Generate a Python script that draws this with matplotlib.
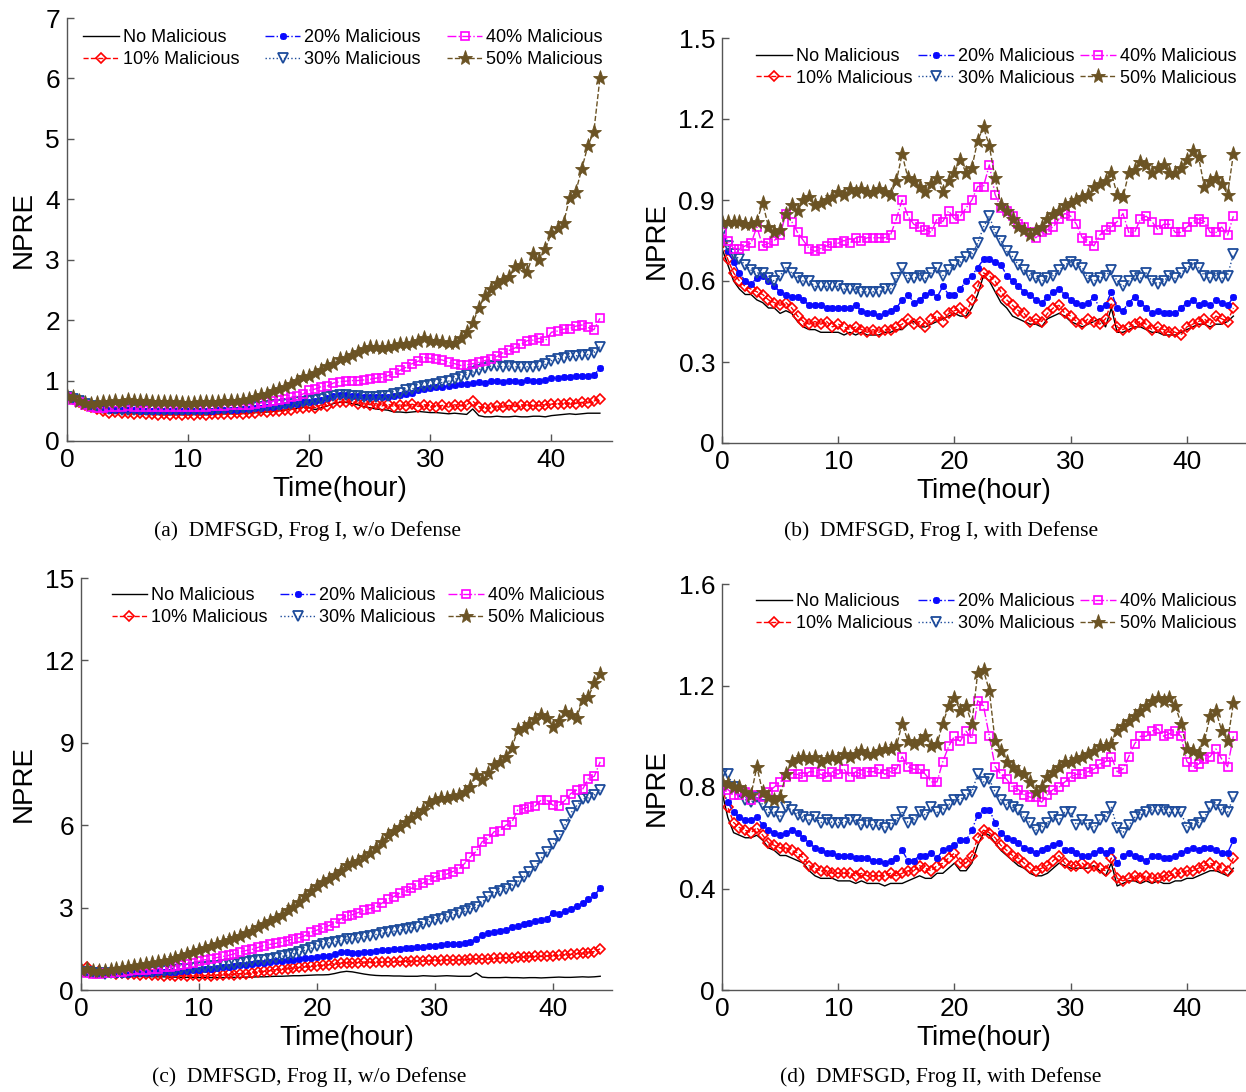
import numpy as np
import matplotlib
matplotlib.use("Agg")
import matplotlib.pyplot as plt

# ---------------- data ----------------
hours = [i * 0.5 for i in range(89)]  # 0 .. 44 h, every half hour
series_labels = ["No Malicious", "10% Malicious", "20% Malicious",
                 "30% Malicious", "40% Malicious", "50% Malicious"]
captions = ["(a)  DMFSGD, Frog I, w/o Defense", "(b)  DMFSGD, Frog I, with Defense",
            "(c)  DMFSGD, Frog II, w/o Defense", "(d)  DMFSGD, Frog II, with Defense"]
a_yticks = [0, 1, 2, 3, 4, 5, 6, 7]
b_yticks = [0, 0.3, 0.6, 0.9, 1.2, 1.5]
c_yticks = [0, 3, 6, 9, 12, 15]
d_yticks = [0, 0.4, 0.8, 1.2, 1.6]
x_ticks = [0, 10, 20, 30, 40]

# (a) Frog I, w/o defense
a_none = [0.72,0.68,0.63,0.60,0.56,0.53,0.50,0.49,0.48,0.47,
          0.47,0.46,0.46,0.45,0.45,0.44,0.44,0.44,0.44,0.44,
          0.44,0.44,0.44,0.44,0.44,0.45,0.45,0.45,0.45,0.46,
          0.46,0.47,0.47,0.48,0.49,0.50,0.51,0.53,0.54,0.56,
          0.55,0.52,0.55,0.58,0.62,0.64,0.64,0.62,0.60,0.57,
          0.55,0.53,0.52,0.51,0.48,0.48,0.47,0.48,0.49,0.48,
          0.47,0.47,0.46,0.45,0.46,0.45,0.44,0.53,0.42,0.40,
          0.40,0.41,0.40,0.40,0.41,0.40,0.40,0.41,0.41,0.40,
          0.42,0.43,0.44,0.45,0.44,0.45,0.46,0.46,0.46]
a_10 = [0.75,0.70,0.64,0.60,0.56,0.53,0.50,0.47,0.48,0.46,
        0.47,0.45,0.46,0.44,0.45,0.43,0.44,0.43,0.45,0.43,
        0.44,0.43,0.45,0.43,0.44,0.44,0.45,0.44,0.46,0.45,
        0.47,0.47,0.49,0.48,0.50,0.50,0.52,0.52,0.55,0.54,
        0.57,0.55,0.60,0.58,0.63,0.65,0.64,0.66,0.62,0.63,
        0.60,0.62,0.58,0.61,0.57,0.60,0.58,0.61,0.57,0.60,
        0.58,0.57,0.59,0.56,0.60,0.58,0.60,0.66,0.57,0.54,
        0.55,0.58,0.56,0.59,0.57,0.60,0.58,0.59,0.58,0.60,
        0.61,0.62,0.61,0.63,0.62,0.64,0.63,0.66,0.70]
a_20 = [0.73,0.70,0.65,0.60,0.57,0.55,0.53,0.52,0.52,0.51,
        0.51,0.51,0.50,0.50,0.50,0.50,0.50,0.50,0.50,0.50,
        0.50,0.50,0.50,0.50,0.50,0.51,0.51,0.52,0.52,0.53,
        0.53,0.54,0.55,0.56,0.57,0.58,0.59,0.61,0.62,0.64,
        0.65,0.66,0.68,0.71,0.74,0.76,0.76,0.75,0.74,0.73,
        0.73,0.72,0.73,0.73,0.75,0.76,0.78,0.80,0.84,0.86,
        0.88,0.89,0.90,0.91,0.93,0.94,0.95,0.96,0.97,0.96,
        1.00,0.99,0.98,0.99,1.00,0.98,1.01,1.00,0.99,1.01,
        1.04,1.05,1.06,1.06,1.07,1.07,1.08,1.09,1.20]
a_30 = [0.73,0.70,0.66,0.61,0.58,0.56,0.54,0.53,0.53,0.52,
        0.52,0.52,0.52,0.52,0.52,0.52,0.52,0.52,0.52,0.52,
        0.52,0.52,0.52,0.52,0.53,0.53,0.53,0.54,0.54,0.55,
        0.55,0.56,0.57,0.58,0.59,0.60,0.61,0.62,0.64,0.65,
        0.66,0.68,0.70,0.72,0.75,0.76,0.76,0.75,0.74,0.73,
        0.73,0.73,0.74,0.75,0.78,0.80,0.84,0.86,0.90,0.91,
        0.93,0.95,0.97,0.99,1.02,1.06,1.10,1.14,1.18,1.21,
        1.24,1.24,1.23,1.24,1.23,1.22,1.23,1.22,1.24,1.27,
        1.33,1.36,1.38,1.40,1.41,1.42,1.43,1.46,1.56]
a_40 = [0.72,0.68,0.64,0.59,0.56,0.55,0.55,0.56,0.57,0.57,
        0.58,0.57,0.57,0.57,0.56,0.56,0.56,0.57,0.56,0.56,
        0.56,0.57,0.57,0.57,0.58,0.58,0.58,0.59,0.59,0.60,
        0.60,0.61,0.63,0.64,0.66,0.68,0.70,0.72,0.74,0.78,
        0.84,0.86,0.90,0.91,0.96,0.98,0.99,1.00,1.00,1.01,
        1.02,1.04,1.05,1.08,1.12,1.17,1.22,1.28,1.32,1.38,
        1.37,1.35,1.34,1.30,1.28,1.25,1.26,1.28,1.30,1.33,
        1.36,1.40,1.46,1.50,1.54,1.60,1.66,1.67,1.70,1.66,
        1.80,1.82,1.85,1.86,1.90,1.92,1.88,1.84,2.03]
a_50 = [0.75,0.72,0.66,0.63,0.62,0.63,0.65,0.64,0.66,0.65,
        0.68,0.67,0.66,0.66,0.65,0.65,0.64,0.64,0.64,0.63,
        0.63,0.63,0.64,0.64,0.65,0.65,0.66,0.66,0.67,0.68,
        0.70,0.72,0.76,0.78,0.82,0.86,0.90,0.95,1.00,1.06,
        1.08,1.12,1.18,1.24,1.28,1.35,1.38,1.42,1.48,1.52,
        1.55,1.56,1.54,1.56,1.58,1.60,1.60,1.62,1.65,1.70,
        1.66,1.65,1.64,1.62,1.63,1.70,1.80,1.95,2.20,2.40,
        2.52,2.61,2.66,2.72,2.88,2.91,2.80,3.10,3.00,3.18,
        3.44,3.52,3.61,4.02,4.12,4.50,4.88,5.12,6.00]

# (b) Frog I, with defense
b_none = [0.72,0.66,0.60,0.57,0.55,0.55,0.53,0.52,0.50,0.50,
          0.48,0.49,0.48,0.45,0.43,0.42,0.42,0.41,0.41,0.41,
          0.41,0.40,0.41,0.40,0.41,0.40,0.40,0.40,0.41,0.41,
          0.42,0.42,0.44,0.45,0.43,0.43,0.44,0.45,0.46,0.47,
          0.48,0.47,0.47,0.50,0.55,0.62,0.60,0.56,0.52,0.50,
          0.47,0.46,0.45,0.44,0.44,0.43,0.46,0.47,0.48,0.47,
          0.45,0.44,0.43,0.44,0.45,0.46,0.43,0.50,0.41,0.41,
          0.42,0.43,0.43,0.42,0.41,0.41,0.40,0.40,0.40,0.41,
          0.42,0.43,0.44,0.44,0.43,0.44,0.44,0.45,0.47]
b_10 = [0.74,0.68,0.63,0.60,0.58,0.57,0.56,0.55,0.53,0.52,
        0.51,0.52,0.50,0.47,0.45,0.44,0.45,0.44,0.45,0.43,
        0.44,0.43,0.42,0.43,0.42,0.41,0.42,0.41,0.42,0.42,
        0.43,0.44,0.46,0.44,0.45,0.43,0.46,0.47,0.45,0.48,
        0.49,0.50,0.48,0.53,0.58,0.63,0.62,0.60,0.56,0.53,
        0.51,0.49,0.48,0.45,0.46,0.45,0.48,0.50,0.51,0.48,
        0.47,0.45,0.44,0.46,0.45,0.44,0.46,0.52,0.43,0.42,
        0.43,0.44,0.45,0.44,0.42,0.43,0.42,0.41,0.41,0.40,
        0.43,0.44,0.45,0.46,0.44,0.47,0.46,0.45,0.50]
b_20 = [0.76,0.71,0.67,0.63,0.60,0.59,0.61,0.62,0.60,0.58,
        0.56,0.55,0.54,0.54,0.53,0.51,0.51,0.51,0.50,0.50,
        0.50,0.50,0.50,0.51,0.49,0.48,0.48,0.47,0.48,0.49,
        0.50,0.53,0.55,0.52,0.53,0.55,0.56,0.54,0.58,0.55,
        0.55,0.57,0.60,0.62,0.65,0.68,0.68,0.67,0.66,0.62,
        0.60,0.58,0.56,0.55,0.53,0.52,0.54,0.56,0.57,0.55,
        0.53,0.52,0.51,0.52,0.54,0.50,0.51,0.56,0.50,0.49,
        0.52,0.54,0.52,0.50,0.48,0.49,0.48,0.48,0.48,0.50,
        0.52,0.53,0.51,0.52,0.51,0.53,0.52,0.51,0.54]
b_30 = [0.78,0.73,0.70,0.68,0.66,0.64,0.63,0.63,0.61,0.60,
        0.62,0.65,0.63,0.61,0.60,0.60,0.58,0.58,0.58,0.58,
        0.58,0.57,0.57,0.57,0.56,0.56,0.56,0.56,0.57,0.57,
        0.61,0.65,0.61,0.61,0.62,0.61,0.63,0.65,0.62,0.64,
        0.66,0.67,0.69,0.70,0.74,0.80,0.84,0.78,0.75,0.71,
        0.69,0.66,0.64,0.62,0.61,0.60,0.61,0.62,0.64,0.66,
        0.67,0.66,0.65,0.61,0.60,0.61,0.62,0.64,0.60,0.58,
        0.60,0.62,0.61,0.63,0.60,0.59,0.60,0.62,0.61,0.63,
        0.65,0.66,0.65,0.62,0.61,0.62,0.61,0.62,0.70]
b_40 = [0.78,0.75,0.72,0.72,0.73,0.74,0.80,0.73,0.74,0.75,
        0.77,0.85,0.82,0.78,0.75,0.72,0.71,0.72,0.73,0.74,
        0.74,0.75,0.74,0.76,0.75,0.76,0.76,0.76,0.76,0.77,
        0.83,0.90,0.84,0.81,0.80,0.79,0.78,0.83,0.82,0.86,
        0.83,0.84,0.87,0.90,0.95,0.95,1.03,0.92,0.87,0.86,
        0.84,0.81,0.80,0.78,0.76,0.78,0.79,0.80,0.83,0.85,
        0.84,0.81,0.76,0.75,0.73,0.77,0.79,0.80,0.82,0.85,
        0.78,0.78,0.83,0.84,0.82,0.79,0.81,0.81,0.78,0.78,
        0.80,0.82,0.83,0.82,0.78,0.78,0.80,0.77,0.84]
b_50 = [0.82,0.82,0.82,0.82,0.81,0.81,0.82,0.89,0.80,0.78,
        0.79,0.85,0.88,0.86,0.90,0.91,0.88,0.89,0.90,0.91,
        0.93,0.92,0.94,0.93,0.94,0.93,0.93,0.94,0.93,0.92,
        0.97,1.07,0.98,0.97,0.95,0.93,0.96,0.98,0.93,0.97,
        1.00,1.05,1.00,1.02,1.12,1.17,1.10,0.98,0.88,0.86,
        0.83,0.80,0.79,0.77,0.79,0.80,0.83,0.85,0.86,0.88,
        0.89,0.90,0.91,0.92,0.95,0.96,0.97,1.00,0.92,0.91,
        1.00,1.01,1.04,1.03,1.00,1.02,1.03,1.00,1.00,1.02,
        1.05,1.08,1.06,0.95,0.97,0.98,0.96,0.92,1.07]

# (c) Frog II, w/o defense
c_none = [0.65,0.62,0.58,0.56,0.55,0.54,0.53,0.52,0.51,0.50,
          0.50,0.49,0.49,0.48,0.48,0.47,0.47,0.46,0.46,0.46,
          0.45,0.45,0.45,0.45,0.45,0.46,0.46,0.46,0.47,0.47,
          0.48,0.48,0.49,0.50,0.50,0.51,0.52,0.52,0.53,0.54,
          0.55,0.55,0.56,0.60,0.65,0.68,0.66,0.62,0.58,0.55,
          0.53,0.52,0.52,0.51,0.51,0.50,0.50,0.50,0.52,0.51,
          0.50,0.51,0.52,0.51,0.50,0.50,0.50,0.62,0.47,0.45,
          0.45,0.45,0.46,0.45,0.45,0.44,0.45,0.45,0.44,0.45,
          0.46,0.47,0.46,0.46,0.47,0.48,0.47,0.48,0.50]
c_10 = [0.75,0.85,0.65,0.70,0.62,0.66,0.60,0.62,0.58,0.60,
        0.55,0.58,0.54,0.56,0.52,0.55,0.51,0.54,0.50,0.53,
        0.50,0.53,0.52,0.55,0.53,0.57,0.56,0.60,0.58,0.63,
        0.65,0.68,0.70,0.74,0.75,0.78,0.80,0.82,0.84,0.86,
        0.88,0.90,0.92,0.94,0.98,1.00,0.98,1.00,1.02,1.00,
        1.02,1.01,1.03,1.02,1.04,1.03,1.05,1.06,1.05,1.08,
        1.07,1.08,1.10,1.09,1.11,1.10,1.12,1.13,1.14,1.12,
        1.15,1.16,1.18,1.18,1.20,1.20,1.21,1.22,1.22,1.24,
        1.25,1.26,1.28,1.30,1.32,1.34,1.36,1.40,1.50]
c_20 = [0.65,0.63,0.60,0.60,0.59,0.60,0.59,0.60,0.60,0.61,
        0.62,0.62,0.63,0.64,0.65,0.66,0.67,0.68,0.70,0.72,
        0.74,0.76,0.78,0.80,0.82,0.84,0.87,0.90,0.92,0.95,
        0.97,1.00,1.02,1.04,1.06,1.08,1.10,1.12,1.15,1.18,
        1.20,1.22,1.25,1.30,1.38,1.40,1.36,1.36,1.38,1.40,
        1.42,1.44,1.46,1.48,1.50,1.52,1.54,1.56,1.58,1.60,
        1.62,1.64,1.66,1.66,1.68,1.70,1.74,1.84,2.00,2.08,
        2.10,2.16,2.20,2.28,2.34,2.40,2.45,2.50,2.55,2.60,
        2.82,2.76,2.88,2.96,3.05,3.15,3.30,3.45,3.70]
c_30 = [0.65,0.64,0.62,0.61,0.60,0.61,0.62,0.62,0.63,0.64,
        0.65,0.66,0.67,0.68,0.70,0.72,0.74,0.76,0.78,0.80,
        0.82,0.84,0.86,0.88,0.90,0.93,0.96,0.99,1.02,1.05,
        1.08,1.11,1.14,1.18,1.22,1.27,1.32,1.38,1.45,1.52,
        1.62,1.68,1.72,1.76,1.80,1.84,1.87,1.90,1.94,1.98,
        2.02,2.06,2.10,2.14,2.18,2.22,2.26,2.30,2.40,2.49,
        2.55,2.60,2.66,2.72,2.80,2.86,2.94,3.02,3.20,3.40,
        3.52,3.60,3.68,3.80,3.94,4.10,4.30,4.50,4.80,5.03,
        5.30,5.60,6.00,6.44,6.70,6.95,7.00,7.10,7.28]
c_40 = [0.65,0.62,0.60,0.60,0.61,0.62,0.64,0.66,0.68,0.71,
        0.72,0.74,0.76,0.78,0.82,0.85,0.88,0.92,0.96,1.00,
        1.05,1.10,1.13,1.18,1.22,1.26,1.32,1.38,1.44,1.48,
        1.55,1.62,1.66,1.70,1.74,1.80,1.86,1.90,1.98,2.10,
        2.18,2.26,2.34,2.44,2.58,2.70,2.74,2.82,2.90,2.96,
        3.02,3.16,3.30,3.40,3.52,3.60,3.70,3.82,3.90,4.02,
        4.12,4.19,4.22,4.31,4.40,4.60,4.85,5.05,5.40,5.50,
        5.76,5.80,6.00,6.10,6.55,6.60,6.68,6.70,6.92,6.90,
        6.73,6.70,6.90,7.15,7.28,7.30,7.70,7.78,8.31]
c_50 = [0.72,0.75,0.70,0.68,0.70,0.74,0.78,0.80,0.84,0.88,
        0.92,0.95,0.98,1.02,1.06,1.10,1.16,1.22,1.30,1.38,
        1.45,1.52,1.60,1.66,1.74,1.82,1.90,1.98,2.06,2.14,
        2.28,2.40,2.52,2.62,2.74,2.90,3.04,3.20,3.42,3.60,
        3.80,3.94,4.05,4.20,4.35,4.55,4.62,4.70,4.85,5.00,
        5.16,5.40,5.64,5.80,5.95,6.10,6.26,6.40,6.55,6.80,
        6.90,6.99,6.99,7.05,7.10,7.22,7.40,7.83,7.64,7.90,
        8.19,8.30,8.50,8.80,9.46,9.55,9.70,9.85,10.00,9.90,
        9.58,9.80,10.13,10.00,9.90,10.56,10.67,11.18,11.50]

# (d) Frog II, with defense
d_none = [0.78,0.68,0.62,0.61,0.60,0.60,0.61,0.59,0.56,0.55,
          0.53,0.53,0.52,0.51,0.50,0.47,0.45,0.44,0.44,0.44,
          0.43,0.43,0.43,0.42,0.43,0.42,0.42,0.42,0.41,0.42,
          0.42,0.42,0.43,0.44,0.45,0.44,0.44,0.46,0.46,0.48,
          0.50,0.47,0.47,0.50,0.57,0.62,0.61,0.58,0.55,0.53,
          0.51,0.49,0.48,0.46,0.45,0.45,0.46,0.48,0.50,0.49,
          0.48,0.48,0.48,0.48,0.49,0.47,0.45,0.50,0.41,0.42,
          0.43,0.43,0.42,0.43,0.42,0.43,0.42,0.42,0.43,0.43,
          0.44,0.44,0.45,0.46,0.47,0.47,0.46,0.45,0.48]
d_10 = [0.80,0.72,0.66,0.64,0.63,0.62,0.64,0.61,0.58,0.57,
        0.56,0.56,0.55,0.54,0.52,0.49,0.48,0.47,0.47,0.46,
        0.46,0.46,0.46,0.45,0.46,0.45,0.45,0.45,0.45,0.46,
        0.45,0.46,0.47,0.47,0.49,0.48,0.47,0.49,0.50,0.52,
        0.54,0.50,0.50,0.53,0.60,0.63,0.62,0.60,0.57,0.55,
        0.53,0.52,0.50,0.48,0.47,0.48,0.49,0.51,0.53,0.50,
        0.49,0.49,0.50,0.48,0.49,0.48,0.47,0.52,0.44,0.43,
        0.44,0.45,0.44,0.45,0.44,0.44,0.45,0.45,0.46,0.46,
        0.47,0.47,0.48,0.49,0.50,0.49,0.48,0.47,0.52]
d_20 = [0.80,0.74,0.70,0.68,0.67,0.67,0.68,0.65,0.63,0.62,
        0.61,0.62,0.63,0.62,0.60,0.58,0.56,0.55,0.54,0.54,
        0.53,0.53,0.53,0.52,0.52,0.52,0.51,0.51,0.50,0.51,
        0.52,0.55,0.51,0.51,0.53,0.53,0.54,0.52,0.55,0.56,
        0.57,0.59,0.59,0.63,0.69,0.71,0.71,0.66,0.62,0.60,
        0.59,0.58,0.56,0.55,0.54,0.55,0.56,0.57,0.58,0.55,
        0.55,0.54,0.53,0.53,0.54,0.55,0.54,0.55,0.50,0.53,
        0.54,0.53,0.52,0.51,0.53,0.53,0.52,0.52,0.53,0.54,
        0.55,0.56,0.55,0.56,0.56,0.55,0.54,0.54,0.59]
d_30 = [0.85,0.85,0.80,0.78,0.75,0.74,0.76,0.73,0.70,0.70,
        0.68,0.72,0.71,0.69,0.68,0.67,0.68,0.66,0.67,0.66,
        0.66,0.66,0.67,0.67,0.65,0.66,0.65,0.65,0.64,0.65,
        0.67,0.70,0.66,0.67,0.70,0.69,0.72,0.70,0.71,0.73,
        0.75,0.75,0.77,0.78,0.85,0.82,0.83,0.78,0.75,0.73,
        0.72,0.71,0.68,0.66,0.63,0.64,0.66,0.68,0.67,0.70,
        0.70,0.65,0.67,0.65,0.64,0.67,0.68,0.72,0.64,0.62,
        0.65,0.68,0.69,0.70,0.71,0.71,0.71,0.70,0.70,0.70,
        0.64,0.65,0.66,0.68,0.72,0.73,0.71,0.70,0.76]
d_40 = [0.80,0.79,0.77,0.77,0.78,0.75,0.77,0.76,0.78,0.80,
        0.82,0.84,0.85,0.85,0.84,0.86,0.86,0.85,0.84,0.86,
        0.85,0.87,0.84,0.86,0.85,0.86,0.86,0.87,0.85,0.86,
        0.87,0.92,0.88,0.87,0.87,0.85,0.82,0.82,0.90,0.96,
        1.00,0.98,1.02,0.99,1.14,1.12,1.00,0.88,0.85,0.83,
        0.80,0.79,0.77,0.76,0.76,0.74,0.77,0.79,0.80,0.82,
        0.84,0.85,0.85,0.86,0.87,0.89,0.90,0.92,0.86,0.87,
        0.92,0.97,1.00,1.00,1.02,1.03,1.00,1.01,1.02,1.00,
        0.90,0.88,0.89,0.91,0.92,0.95,0.91,0.88,1.00]
d_50 = [0.82,0.81,0.80,0.80,0.78,0.77,0.88,0.78,0.76,0.75,
        0.76,0.85,0.90,0.91,0.92,0.91,0.92,0.90,0.91,0.92,
        0.91,0.93,0.92,0.93,0.94,0.93,0.93,0.94,0.95,0.95,
        0.96,1.05,0.98,0.97,0.98,1.00,0.96,0.97,1.05,1.12,
        1.15,1.10,1.12,1.05,1.25,1.26,1.18,0.98,0.94,0.90,
        0.88,0.86,0.85,0.82,0.78,0.80,0.84,0.86,0.88,0.90,
        0.90,0.91,0.92,0.93,0.94,0.96,0.96,0.97,1.02,1.04,
        1.06,1.08,1.10,1.12,1.14,1.15,1.14,1.15,1.12,1.05,
        0.95,0.94,0.93,0.98,1.08,1.10,1.02,0.98,1.13]

# ---------------- styles ----------------
SANS = ["Liberation Sans", "DejaVu Sans"]
SERIF = ["Liberation Serif", "DejaVu Serif"]
styles = [
    dict(color="black", linestyle="-", marker=None),
    dict(color="#ff0000", linestyle="--", marker="D", markersize=5.5,
         markerfacecolor="none", markeredgewidth=1.2),
    dict(color="#0a0aff", linestyle="-.", marker=(8, 2, 0), markersize=5,
         markeredgewidth=1.3),
    dict(color="#1d4b9b", linestyle=":", marker="v", markersize=7.5,
         markerfacecolor="none", markeredgewidth=1.3),
    dict(color="#ff00ff", linestyle="-.", marker="s", markersize=6,
         markerfacecolor="none", markeredgewidth=1.2),
    dict(color="#6b5324", linestyle="--", marker="*", markersize=11,
         markeredgewidth=0.6),
]

W, H = 1246, 1092
fig = plt.figure(figsize=(W / 100, H / 100), dpi=100)


def px_axes(left, right, top, bottom):
    return fig.add_axes([left / W, (H - bottom) / H, (right - left) / W, (bottom - top) / H])


panels = [
    (px_axes(67, 612, 18, 441), [a_none, a_10, a_20, a_30, a_40, a_50], a_yticks, (0, 7),
     dict(bbox_to_anchor=(0.03, 0.973), loc="upper left", columnspacing=1.45)),
    (px_axes(722, 1245, 38, 443), [b_none, b_10, b_20, b_30, b_40, b_50], b_yticks, (0, 1.5),
     dict(bbox_to_anchor=(0.983, 0.975), loc="upper right", columnspacing=0.35)),
    (px_axes(81, 612, 578, 990), [c_none, c_10, c_20, c_30, c_40, c_50], c_yticks, (0, 15),
     dict(bbox_to_anchor=(0.985, 0.977), loc="upper right", columnspacing=0.7)),
    (px_axes(722, 1245, 584, 990), [d_none, d_10, d_20, d_30, d_40, d_50], d_yticks, (0, 1.6),
     dict(bbox_to_anchor=(0.983, 0.977), loc="upper right", columnspacing=0.35)),
]

for ax, data, yt, ylim, legkw in panels:
    for vals, lab, st in zip(data, series_labels, styles):
        ax.plot(hours, vals, label=lab, linewidth=1.0, **st)
    ax.set_xlim(0, 45)
    ax.set_ylim(*ylim)
    ax.set_xticks(x_ticks)
    ax.set_yticks(yt)
    ax.set_yticklabels([("%g" % v) if v not in (0.3, 0.6, 0.9) else "%.1f" % v for v in yt])
    for s in ("top", "right"):
        ax.spines[s].set_visible(False)
    for s in ("left", "bottom"):
        ax.spines[s].set_color("#555555")
        ax.spines[s].set_linewidth(1.0)
    ax.tick_params(direction="in", length=5, width=1, color="#555555",
                   labelsize=19, pad=5)
    for t in ax.get_xticklabels() + ax.get_yticklabels():
        t.set_family(SANS)
    ax.set_xlabel("Time(hour)", fontsize=20, family=SANS, labelpad=3)
    ax.set_ylabel("NPRE", fontsize=20, family=SANS, labelpad=6)
    ax.legend(ncol=3, frameon=False, prop=dict(family=SANS, size=13),
              handlelength=1.95, handletextpad=0.22, labelspacing=0.25,
              borderaxespad=0.0, borderpad=0.0, **legkw)

cap_pos = [(308, 531), (941, 531), (309, 1077), (941, 1077)]
for (cx, cy), txt in zip(cap_pos, captions):
    fig.text(cx / W, 1 - cy / H, txt, ha="center", va="center",
             fontsize=15.5, family=SERIF)

fig.savefig("out.png", dpi=100)
